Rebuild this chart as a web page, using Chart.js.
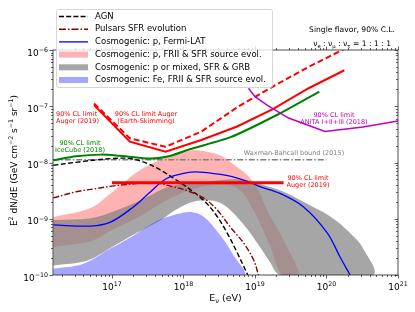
<!DOCTYPE html>
<html>
<head>
<meta charset="utf-8">
<script src="https://cdn.jsdelivr.net/npm/chart.js@4.4.1/dist/chart.umd.min.js"></script>
<style>
  html, body { margin: 0; padding: 0; background: #fff; }
</style>
</head>
<body>
<canvas id="flux" width="415" height="312"></canvas>
<script>
// all readings are log10 values off the plot: energy in eV, E^2 dN/dE in GeV cm^-2 s^-1 sr^-1
const xRange = [16.176, 21];
const yRange = [-10, -6];
const xTickExp = [17, 18, 19, 20, 21];
const yTickExp = [-10, -9, -8, -7, -6];

const agnE = [16.18, 16.6, 17.0, 17.25, 17.5, 17.7, 17.85, 18.05, 18.28, 18.45, 18.61, 18.75, 18.9];
const agnF = [-8.05, -7.98, -7.93, -7.93, -8.02, -8.15, -8.27, -8.44, -8.67, -8.92, -9.25, -9.6, -10.0];

const psrE = [16.18, 16.5, 16.8, 17.0, 17.3, 17.6, 17.82, 18.05, 18.28, 18.47, 18.65, 18.84, 18.98, 19.05];
const psrF = [-8.63, -8.52, -8.46, -8.42, -8.38, -8.36, -8.42, -8.5, -8.63, -8.84, -9.14, -9.43, -9.73, -10.0];

const fermiE = [16.18, 16.7, 16.98, 17.3, 17.54, 17.77, 18.05, 18.23, 18.6, 18.93, 19.07, 19.35, 19.68, 20.01, 20.19, 20.33];
const fermiF = [-9.11, -9.13, -9.06, -8.79, -8.52, -8.28, -8.18, -8.17, -8.23, -8.35, -8.43, -8.55, -8.79, -9.25, -9.68, -10.0];

const frUpE = [16.18, 16.7, 16.98, 17.4, 17.77, 18.0, 18.19, 18.51, 18.75, 18.89, 19.03, 19.17, 19.45, 19.61];
const frUpF = [-8.97, -8.81, -8.55, -8.13, -7.9, -7.81, -7.78, -7.87, -8.08, -8.22, -8.45, -8.85, -9.5, -10.0];
const frLoE = [16.18, 16.7, 17.0, 17.4, 17.8, 18.2, 18.6, 18.8, 19.0, 19.2, 19.38];
const frLoF = [-9.5, -9.4, -9.2, -8.95, -8.65, -8.45, -8.4, -8.5, -8.9, -9.45, -10.0];

const grbUpE = [16.18, 16.7, 17.0, 17.4, 17.82, 18.28, 18.75, 19.07, 19.4, 19.68, 19.95, 20.15, 20.35, 20.5, 20.65];
const grbUpF = [-9.02, -8.99, -8.88, -8.67, -8.42, -8.35, -8.3, -8.38, -8.52, -8.7, -8.88, -9.05, -9.28, -9.5, -10.0];
const grbLoE = [16.18, 16.66, 16.98, 17.35, 17.67, 17.95, 18.2, 18.52, 18.84, 19.07, 19.2, 19.36];
const grbLoF = [-9.83, -9.74, -9.52, -9.25, -9.03, -8.8, -8.68, -8.72, -9.1, -9.5, -9.75, -10.0];

const feUpE = [16.18, 16.6, 16.98, 17.3, 17.63, 17.9, 18.1, 18.28, 18.52, 18.7, 18.84];
const feUpF = [-9.89, -9.8, -9.53, -9.3, -9.04, -8.92, -8.88, -8.96, -9.3, -9.65, -10.0];
const feLoE = [16.18];
const feLoF = [-10.0];

const augerE = [16.75, 17.25, 17.75, 18.25, 18.75, 19.25, 19.75, 20.25];
const augerF = [-6.98, -7.63, -7.81, -7.6, -7.36, -7.05, -6.68, -6.36];
const augerEsF = [-6.95, -7.57, -7.72, -7.45, -7.02, -6.65, -6.3, -5.98];

const augerIntE = [17.0, 19.4];
const augerIntF = [-8.36, -8.36];

const icE = [16.18, 16.5, 16.85, 17.1, 17.55, 17.82, 18.1, 18.66, 19.36, 19.9];
const icF = [-7.96, -7.89, -7.86, -7.88, -7.93, -7.88, -7.76, -7.55, -7.12, -6.74];

const anitaE = [18.91, 19.0, 19.17, 19.47, 19.98, 20.51, 21.0];
const anitaF = [-6.68, -6.83, -6.98, -7.21, -7.45, -7.37, -7.26];

const wbE = [16.18, 20.0];
const wbF = [-7.95, -7.95];

const toPts = (es, fs) => es.map((e, i) => ({ x: 10 ** e, y: 10 ** fs[i] }));
const bandPts = (ue, uf, le, lf) => toPts(ue, uf).concat(toPts(le, lf).reverse());

const FONT = 'DejaVu Sans';

const band = (data, color, order) => ({
  data, fill: 'shape', backgroundColor: color, borderColor: 'transparent',
  borderWidth: 0, tension: 0.35, order
});
const curve = (data, color, width, dash, tension, order) => ({
  data, fill: false, borderColor: color, borderWidth: width,
  borderDash: dash, tension, order, borderCapStyle: 'butt'
});

const datasets = [
  band(bandPts(frUpE, frUpF, frLoE, frLoF), 'rgba(255,0,0,0.3)', 20),
  band(bandPts(grbUpE, grbUpF, grbLoE, grbLoF), 'rgba(128,128,128,0.7)', 19),
  band(bandPts(feUpE, feUpF, feLoE, feLoF), 'rgba(0,0,255,0.35)', 18),
  curve(toPts(wbE, wbF), '#808080', 1.5, [6, 2, 1.5, 2], 0, 12),
  curve(toPts(agnE, agnF), '#000000', 1.4, [5, 2.5], 0.35, 11),
  curve(toPts(psrE, psrF), '#8b0000', 1.4, [6, 2, 1.5, 2], 0.35, 10),
  curve(toPts(fermiE, fermiF), '#0000ff', 1.3, [], 0.35, 9),
  curve(toPts(icE, icF), '#008000', 2, [], 0.2, 8),
  curve(toPts(augerE, augerF), '#ff0000', 2, [], 0, 7),
  curve(toPts(augerE, augerEsF), '#ff0000', 2, [6, 3], 0, 6),
  curve(toPts(augerIntE, augerIntF), '#ff0000', 3, [], 0, 5),
  curve(toPts(anitaE, anitaF), '#bf00bf', 1.5, [], 0, 4)
];

const legendItems = [
  { text: 'AGN', kind: 'line', color: '#000000', width: 1.5, dash: [5, 2.2] },
  { text: 'Pulsars SFR evolution', kind: 'line', color: '#8b0000', width: 1.5, dash: [7, 2, 1.5, 2] },
  { text: 'Cosmogenic: p, Fermi-LAT', kind: 'line', color: '#0000ff', width: 1.3, dash: [] },
  { text: 'Cosmogenic: p, FRII & SFR source evol.', kind: 'patch', color: 'rgba(255,0,0,0.3)' },
  { text: 'Cosmogenic: p or mixed, SFR & GRB', kind: 'patch', color: 'rgba(128,128,128,0.7)' },
  { text: 'Cosmogenic: Fe, FRII & SFR source evol.', kind: 'patch', color: 'rgba(0,0,255,0.35)' }
];

const notes = [
  { lines: ['90% CL limit', 'Auger (2019)'], color: '#ff0000', x: 56, y: 114, align: 'left' },
  { lines: ['90% CL limit Auger', '(Earth-Skimming)'], color: '#ff0000', x: 146, y: 114, align: 'center' },
  { lines: ['90% CL limit', 'IceCube (2018)'], color: '#008000', x: 80, y: 143, align: 'center' },
  { lines: ['90% CL limit', 'ANITA I+II+III (2018)'], color: '#bf00bf', x: 334, y: 115, align: 'center' },
  { lines: ['90% CL limit', 'Auger (2019)'], color: '#ff0000', x: 308, y: 178, align: 'center' },
  { lines: ['Waxman-Bahcall bound (2015)'], color: '#808080', x: 294, y: 153, align: 'center' }
];

// draw runs of [text, 'n'|'sup'|'sub'] pieces
function rich(ctx, parts, x, y, align, size) {
  const fontFor = k => (k === 'n' ? size : size * 0.7) + 'px "' + FONT + '"';
  let total = 0;
  parts.forEach(p => { ctx.font = fontFor(p[1]); total += ctx.measureText(p[0]).width; });
  let cx = align === 'right' ? x - total : align === 'center' ? x - total / 2 : x;
  ctx.textAlign = 'left';
  ctx.textBaseline = 'alphabetic';
  parts.forEach(p => {
    ctx.font = fontFor(p[1]);
    const dy = p[1] === 'sup' ? -size * 0.4 : p[1] === 'sub' ? size * 0.22 : 0;
    ctx.fillText(p[0], cx, y + dy);
    cx += ctx.measureText(p[0]).width;
  });
}

const expText = e => String(e).replace('-', '\u2212');

const ink = {
  id: 'ink',
  afterDatasetsDraw(chart) {
    const { ctx, chartArea: a, scales: { x, y } } = chart;
    ctx.save();
    // notes
    ctx.textBaseline = 'middle';
    ctx.font = '6.5px "' + FONT + '"';
    notes.forEach(n => {
      ctx.fillStyle = n.color;
      ctx.textAlign = n.align;
      n.lines.forEach((t, i) => ctx.fillText(t, n.x, n.y + i * 7.5));
    });
    // frame
    ctx.strokeStyle = '#222';
    ctx.lineWidth = 0.8;
    ctx.strokeRect(a.left, a.top, a.right - a.left, a.bottom - a.top);
    // ticks
    ctx.lineWidth = 0.7;
    for (let d = Math.floor(xRange[0]); d < xRange[1] + 0.5; d++) {
      for (let k = 1; k < 10; k++) {
        const v = k * 10 ** d;
        if (v < 10 ** xRange[0] || v > 10 ** xRange[1] * 1.001) continue;
        const px = Math.round(x.getPixelForValue(v)) + 0.5;
        const len = k === 1 ? 3.5 : 2;
        ctx.beginPath();
        ctx.moveTo(px, a.bottom); ctx.lineTo(px, a.bottom + len);
        ctx.moveTo(px, a.top); ctx.lineTo(px, a.top - len);
        ctx.stroke();
      }
    }
    for (let d = yRange[0]; d <= yRange[1]; d++) {
      for (let k = 1; k < 10; k++) {
        const v = k * 10 ** d;
        if (v > 10 ** yRange[1] * 1.001) continue;
        const py = Math.round(y.getPixelForValue(v)) + 0.5;
        const len = k === 1 ? 3.5 : 2;
        ctx.beginPath();
        ctx.moveTo(a.left, py); ctx.lineTo(a.left - len, py);
        ctx.moveTo(a.right, py); ctx.lineTo(a.right - len, py);
        ctx.stroke();
      }
    }
    // tick labels
    ctx.fillStyle = '#000';
    x.ticks.forEach(t => {
      const e = Math.round(Math.log10(t.value));
      rich(ctx, [['10', 'n'], [expText(e), 'sup']], x.getPixelForValue(t.value), a.bottom + 15, 'center', 9);
    });
    y.ticks.forEach(t => {
      const e = Math.round(Math.log10(t.value));
      rich(ctx, [['10', 'n'], [expText(e), 'sup']], a.left - 5, y.getPixelForValue(t.value) + 5.5, 'right', 9);
    });
    // axis titles
    rich(ctx, [['E', 'n'], ['\u03bd', 'sub'], [' (eV)', 'n']], (a.left + a.right) / 2, 301, 'center', 9.5);
    ctx.save();
    ctx.translate(17, (a.top + a.bottom) / 2 - 2);
    ctx.rotate(-Math.PI / 2);
    rich(ctx, [['E', 'n'], ['2', 'sup'], [' dN/dE (GeV cm', 'n'], ['\u22122', 'sup'], [' s', 'n'],
      ['\u22121', 'sup'], [' sr', 'n'], ['\u22121', 'sup'], [')', 'n']], 0, 0, 'center', 9);
    ctx.restore();
    // flavour note
    rich(ctx, [['Single flavor, 90% C.L.', 'n']], 395, 32, 'right', 7.6);
    rich(ctx, [['\u03bd', 'n'], ['e', 'sub'], [' : \u03bd', 'n'], ['\u03bc', 'sub'], [' : \u03bd', 'n'], ['\u03c4', 'sub'],
      [' = 1 : 1 : 1', 'n']], 391, 46, 'right', 7.6);
    ctx.restore();
  },
  afterDraw(chart) {
    const ctx = chart.ctx;
    ctx.save();
    const bx = 56.5, by = 9.5, bw = 216, bh = 78;
    ctx.beginPath();
    ctx.roundRect(bx, by, bw, bh, 2);
    ctx.fillStyle = 'rgba(255,255,255,0.8)';
    ctx.fill();
    ctx.strokeStyle = '#cccccc';
    ctx.lineWidth = 0.8;
    ctx.stroke();
    ctx.font = '8.5px "' + FONT + '"';
    ctx.textBaseline = 'middle';
    ctx.textAlign = 'left';
    legendItems.forEach((it, i) => {
      const ry = 16.5 + i * 12.7;
      if (it.kind === 'line') {
        ctx.strokeStyle = it.color;
        ctx.lineWidth = it.width;
        ctx.setLineDash(it.dash);
        ctx.beginPath();
        ctx.moveTo(59, ry); ctx.lineTo(88, ry);
        ctx.stroke();
        ctx.setLineDash([]);
      } else {
        ctx.fillStyle = it.color;
        ctx.fillRect(59, ry - 3, 29, 6);
      }
      ctx.fillStyle = '#000';
      ctx.fillText(it.text, 95, ry);
    });
    ctx.restore();
  }
};

new Chart(document.getElementById('flux'), {
  type: 'line',
  data: { datasets },
  options: {
    responsive: false,
    animation: false,
    events: [],
    layout: { padding: { top: 50, right: 17, left: 0, bottom: 0 } },
    elements: { point: { radius: 0 } },
    plugins: { legend: { display: false }, tooltip: { enabled: false } },
    scales: {
      x: {
        type: 'logarithmic', min: 10 ** xRange[0], max: 10 ** xRange[1],
        afterBuildTicks: s => { s.ticks = xTickExp.map(e => ({ value: 10 ** e })); },
        afterFit: s => { s.height = 37; },
        grid: { display: false }, border: { display: false },
        ticks: { display: false }
      },
      y: {
        type: 'logarithmic', min: 10 ** yRange[0], max: 10 ** yRange[1],
        afterBuildTicks: s => { s.ticks = yTickExp.map(e => ({ value: 10 ** e })); },
        afterFit: s => { s.width = 53; },
        grid: { display: false }, border: { display: false },
        ticks: { display: false }
      }
    }
  },
  plugins: [ink]
});
</script>
</body>
</html>
